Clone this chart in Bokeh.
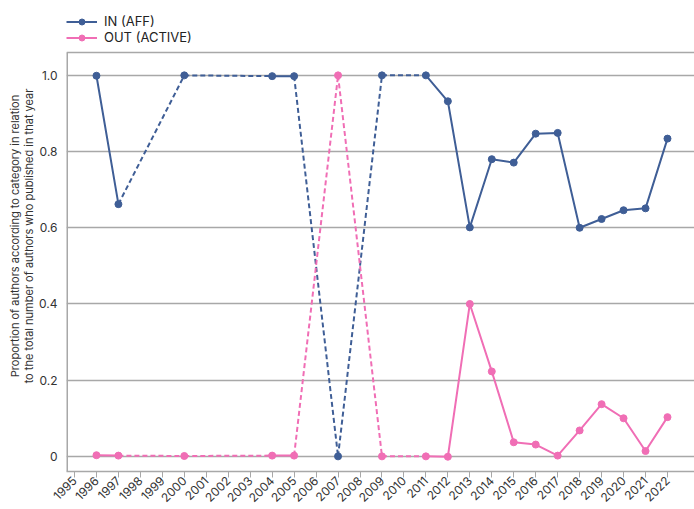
import math
from bokeh.plotting import figure
from bokeh.models import (ColumnDataSource, FixedTicker, CustomJSTickFormatter, Legend,
                          LegendItem, Range1d, Span)
from bokeh.embed import file_html
from bokeh.resources import INLINE

# ---- data ----
years = [1996, 1997, 2000, 2004, 2005, 2007, 2009, 2011, 2012, 2013, 2014, 2015,
         2016, 2017, 2018, 2019, 2020, 2021, 2022]
in_aff = [0.999, 0.662, 1.0, 0.998, 0.998, 0.0, 1.0, 1.0, 0.932, 0.601, 0.780, 0.771,
          0.847, 0.849, 0.600, 0.623, 0.646, 0.651, 0.834]
out_active = [0.003, 0.002, 0.001, 0.002, 0.002, 1.0, 0.0, 0.0, -0.001, 0.400, 0.223,
              0.037, 0.031, 0.002, 0.068, 0.137, 0.100, 0.014, 0.103]
tick_years = list(range(1995, 2023))
y_ticks = [0, 0.2, 0.4, 0.6, 0.8, 1.0]

BLUE = "#3f5e96"
PINK = "#f06eb5"
FONT = "Inter"
GRID = "#a8a8a8"

X0, X1 = 1994.636, 2023.23
Y0, YTOP, Y1 = -0.0397, 1.06, 1.1965

p = figure(width=694, height=509, output_backend="svg", toolbar_location=None,
           x_range=Range1d(X0, X1), y_range=Range1d(Y0, Y1),
           min_border_left=66, min_border_right=0, min_border_bottom=36,
           min_border_top=0)
p.outline_line_color = None
p.background_fill_color = "white"
p.border_fill_color = "white"


def full_series(vals):
    d = dict(zip(years, vals))
    xs = list(range(years[0], years[-1] + 1))
    return xs, [d.get(x, float("nan")) for x in xs]


def gap_segments(vals):
    x0, y0, x1, y1 = [], [], [], []
    for i in range(len(years) - 1):
        if years[i + 1] - years[i] > 1:
            x0.append(years[i]); y0.append(vals[i])
            x1.append(years[i + 1]); y1.append(vals[i + 1])
    return dict(x0=x0, y0=y0, x1=x1, y1=y1)


# frame border: top and left lines of the plotting box
p.add_layout(Span(location=YTOP, dimension="width", line_color=GRID, line_width=1.5))
p.segment(x0=[X0], y0=[Y0], x1=[X0], y1=[YTOP], line_color=GRID, line_width=3)

items = []
for label, vals, col in [("IN (AFF)", in_aff, BLUE), ("OUT (ACTIVE)", out_active, PINK)]:
    p.segment("x0", "y0", "x1", "y1", source=ColumnDataSource(gap_segments(vals)),
              line_color=col, line_width=2, line_dash="5 3")
    xs, ys = full_series(vals)
    ln = p.line(xs, ys, line_color=col, line_width=2, line_join="round")
    sc = p.scatter(years, vals, size=7, fill_color=col, line_color=col)
    items.append(LegendItem(label=label, renderers=[ln, sc]))

# axes
p.xaxis.ticker = FixedTicker(ticks=tick_years)
p.xaxis.major_label_orientation = math.pi / 4
p.xaxis.major_label_text_font = FONT
p.xaxis.major_label_text_font_size = "12px"
p.xaxis.major_label_text_color = "#333333"
p.xaxis.axis_line_color = GRID
p.xaxis.axis_line_width = 1.5
p.xaxis.major_tick_line_color = GRID
p.xaxis.major_tick_in = 0
p.xaxis.major_tick_out = 6
p.xaxis.minor_tick_line_color = None
p.xaxis.major_label_standoff = 1

p.yaxis.ticker = FixedTicker(ticks=y_ticks)
p.yaxis.formatter = CustomJSTickFormatter(code="return tick == 0 ? '0' : tick.toFixed(1);")
p.yaxis.major_label_text_font = FONT
p.yaxis.major_label_text_font_size = "12px"
p.yaxis.major_label_text_color = "#333333"
p.yaxis.axis_line_color = None
p.yaxis.major_tick_line_color = None
p.yaxis.minor_tick_line_color = None
p.yaxis.major_label_standoff = 3
p.yaxis.axis_label = ("Proportion of authors according to category in relation\n"
                      "to the total number of authors who published in that year")
p.yaxis.axis_label_text_font = FONT
p.yaxis.axis_label_text_font_size = "11px"
p.yaxis.axis_label_text_font_style = "normal"
p.yaxis.axis_label_text_color = "#333333"
p.yaxis.axis_label_text_line_height = 1.0
p.yaxis.axis_label_standoff = 0

p.xgrid.grid_line_color = None
p.ygrid.grid_line_color = GRID
p.ygrid.grid_line_width = 1.5

legend = Legend(items=items, orientation="vertical", location=(0, 426),
                label_text_font=FONT, label_text_font_size="13px",
                label_text_color="#222222", glyph_width=31, glyph_height=15,
                label_height=15, spacing=0, padding=0, margin=0,
                label_standoff=7, border_line_color=None,
                background_fill_alpha=0)
p.add_layout(legend)

open("out.html", "w").write(file_html(p, INLINE))
